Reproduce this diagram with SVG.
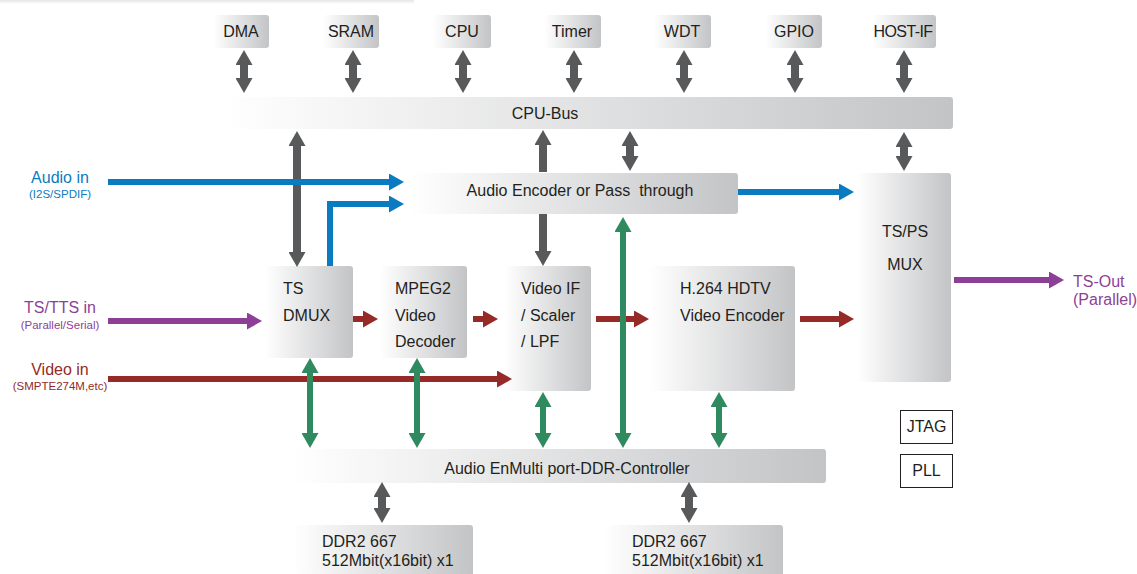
<svg xmlns="http://www.w3.org/2000/svg" width="1137" height="574" viewBox="0 0 1137 574">
<style>
.box{fill:url(#gb);}
.t{font-family:"Liberation Sans",Arial,sans-serif;font-size:16px;fill:#231f20;}
.c{text-anchor:middle;}
.s{font-size:11.5px;}
.g{stroke:#58595b;stroke-width:8;fill:none;marker-start:url(#mg);marker-end:url(#mg);}
.g1{stroke:#58595b;stroke-width:8;fill:none;marker-end:url(#mg);}
.bl{stroke:#0b7bc1;stroke-width:6;fill:none;marker-end:url(#mb);}
.pu{stroke:#8d3f97;stroke-width:6;fill:none;marker-end:url(#mp);}
.rd{stroke:#952a26;stroke-width:6;fill:none;marker-end:url(#mr);}
.gr{stroke:#2f8a60;stroke-width:6;fill:none;marker-start:url(#mgr);marker-end:url(#mgr);}
</style>
<defs>
<linearGradient id="gb" x1="0" y1="0" x2="1" y2="0">
<stop offset="0" stop-color="#ffffff"/>
<stop offset="1" stop-color="#c3c4c6"/>
</linearGradient>
<linearGradient id="gs" x1="0" y1="0" x2="0" y2="1">
<stop offset="0" stop-color="#d9d9d9"/>
<stop offset="1" stop-color="#ffffff"/>
</linearGradient>
<marker id="mg" markerUnits="userSpaceOnUse" viewBox="0 0 15 17" markerWidth="15" markerHeight="17" refX="1" refY="8.5" orient="auto-start-reverse"><path d="M0,0 L15,8.5 L0,17 z" fill="#58595b"/></marker>
<marker id="mb" markerUnits="userSpaceOnUse" viewBox="0 0 15 17" markerWidth="15" markerHeight="17" refX="1" refY="8.5" orient="auto-start-reverse"><path d="M0,0 L15,8.5 L0,17 z" fill="#0b7bc1"/></marker>
<marker id="mp" markerUnits="userSpaceOnUse" viewBox="0 0 15 17" markerWidth="15" markerHeight="17" refX="1" refY="8.5" orient="auto-start-reverse"><path d="M0,0 L15,8.5 L0,17 z" fill="#8d3f97"/></marker>
<marker id="mr" markerUnits="userSpaceOnUse" viewBox="0 0 15 17" markerWidth="15" markerHeight="17" refX="1" refY="8.5" orient="auto-start-reverse"><path d="M0,0 L15,8.5 L0,17 z" fill="#952a26"/></marker>
<marker id="mgr" markerUnits="userSpaceOnUse" viewBox="0 0 15 17" markerWidth="15" markerHeight="17" refX="1" refY="8.5" orient="auto-start-reverse"><path d="M0,0 L15,8.5 L0,17 z" fill="#2f8a60"/></marker>
</defs>
<rect width="1137" height="574" fill="#ffffff"/>
<rect x="-4" y="-2" width="418" height="6" rx="3" fill="url(#gs)"/>

<g id="dma"><rect class="box" x="213" y="15" width="56" height="33" rx="3"/><text class="t c" x="241" y="37">DMA</text></g>
<g id="sram"><rect class="box" x="323" y="15" width="56" height="33" rx="3"/><text class="t c" x="351" y="37">SRAM</text></g>
<g id="cpu"><rect class="box" x="433" y="15" width="58" height="33" rx="3"/><text class="t c" x="462" y="37">CPU</text></g>
<g id="timer"><rect class="box" x="544" y="15" width="57" height="33" rx="3"/><text class="t c" x="572" y="37">Timer</text></g>
<g id="wdt"><rect class="box" x="654" y="15" width="57" height="33" rx="3"/><text class="t c" x="682" y="37">WDT</text></g>
<g id="gpio"><rect class="box" x="765" y="15" width="57" height="33" rx="3"/><text class="t c" x="794" y="37">GPIO</text></g>
<g id="hostif"><rect class="box" x="872" y="15" width="64" height="33" rx="3"/><text class="t c" x="903" y="37" letter-spacing="-0.6">HOST-IF</text></g>

<g id="cpubus"><rect class="box" x="220" y="97" width="733" height="32" rx="3"/><text class="t c" x="545" y="119">CPU-Bus</text></g>
<g id="audioenc"><rect class="box" x="410" y="173" width="328" height="41" rx="3"/><text class="t c" x="580" y="196" xml:space="preserve">Audio Encoder or Pass  through</text></g>
<g id="tsdmux"><rect class="box" x="265" y="266" width="88" height="92" rx="3"/><text class="t" x="283" y="294">TS</text><text class="t" x="283" y="321">DMUX</text></g>
<g id="mpeg2"><rect class="box" x="380" y="266" width="87" height="92" rx="3"/><text class="t" x="395" y="294">MPEG2</text><text class="t" x="395" y="321">Video</text><text class="t" x="395" y="347">Decoder</text></g>
<g id="videoif"><rect class="box" x="504" y="266" width="87" height="125" rx="3"/><text class="t" x="521" y="294">Video IF</text><text class="t" x="521" y="321">/ Scaler</text><text class="t" x="521" y="347">/ LPF</text></g>
<g id="h264"><rect class="box" x="650" y="266" width="145" height="125" rx="3"/><text class="t" x="680" y="294">H.264 HDTV</text><text class="t" x="680" y="321">Video Encoder</text></g>
<g id="tspsmux"><rect class="box" x="857" y="173" width="94" height="209" rx="3"/><text class="t c" x="905" y="237">TS/PS</text><text class="t c" x="905" y="270">MUX</text></g>
<g id="ddrctrl"><rect class="box" x="293" y="449" width="533" height="34" rx="3"/><text class="t c" x="567" y="474">Audio EnMulti port-DDR-Controller</text></g>
<g id="ddr1"><rect class="box" x="293" y="525" width="180" height="60" rx="3"/><text class="t" x="322" y="547">DDR2 667</text><text class="t" x="322" y="566">512Mbit(x16bit) x1</text></g>
<g id="ddr2"><rect class="box" x="603" y="525" width="180" height="60" rx="3"/><text class="t" x="632" y="547">DDR2 667</text><text class="t" x="632" y="566">512Mbit(x16bit) x1</text></g>
<g id="jtag"><rect x="900.5" y="410.5" width="52" height="33" fill="#fff" stroke="#231f20" stroke-width="1"/><text class="t c" x="926.5" y="432">JTAG</text></g>
<g id="pll"><rect x="900.5" y="454.5" width="52" height="33" fill="#fff" stroke="#231f20" stroke-width="1"/><text class="t c" x="926.5" y="476">PLL</text></g>

<g id="labels">
<text class="t c" x="60" y="183" style="fill:#0b7bc1">Audio in</text>
<text class="t c s" x="60" y="198" style="fill:#0b7bc1">(I2S/SPDIF)</text>
<text class="t c" x="60" y="313" style="fill:#8d3f97">TS/TTS in</text>
<text class="t c s" x="60" y="329" style="fill:#8d3f97">(Parallel/Serial)</text>
<text class="t c" x="60" y="375" style="fill:#952a26">Video in</text>
<text class="t c s" x="60" y="390" style="fill:#952a26">(SMPTE274M,etc)</text>
<text class="t" x="1073" y="287" style="fill:#8d3f97">TS-Out</text>
<text class="t" x="1073" y="305" style="fill:#8d3f97">(Parallel)</text>
</g>

<g id="connectors">
<line class="g" x1="244" y1="64" x2="244" y2="79"/>
<line class="g" x1="353" y1="64" x2="353" y2="79"/>
<line class="g" x1="463" y1="64" x2="463" y2="79"/>
<line class="g" x1="574" y1="64" x2="574" y2="79"/>
<line class="g" x1="684" y1="64" x2="684" y2="79"/>
<line class="g" x1="795" y1="64" x2="795" y2="79"/>
<line class="g" x1="904" y1="64" x2="904" y2="79"/>
<line class="g" x1="297" y1="145" x2="297" y2="253"/>
<line class="g1" x1="543" y1="172" x2="543" y2="144"/>
<line class="g" x1="630" y1="145" x2="630" y2="157"/>
<line class="g" x1="904" y1="146" x2="904" y2="157"/>
<line class="g1" x1="543" y1="214" x2="543" y2="252"/>
<line class="g" x1="382" y1="496" x2="382" y2="509"/>
<line class="g" x1="689" y1="496" x2="689" y2="509"/>

<path class="bl" d="M108,182 H390"/>
<path class="bl" d="M330,266 V204 H390"/>
<path class="bl" d="M738,192 H840"/>

<path class="pu" d="M108,321 H248"/>
<path class="pu" d="M954,280 H1050"/>

<path class="rd" d="M108,379 H498"/>
<path class="rd" d="M353,319 H364"/>
<path class="rd" d="M473,319 H484"/>
<path class="rd" d="M596,319 H635"/>
<path class="rd" d="M800,319 H840"/>

<line class="gr" x1="310" y1="372" x2="310" y2="434"/>
<line class="gr" x1="417" y1="372" x2="417" y2="434"/>
<line class="gr" x1="543" y1="406" x2="543" y2="434"/>
<line class="gr" x1="623" y1="231" x2="623" y2="434"/>
<line class="gr" x1="719" y1="406" x2="719" y2="434"/>
</g>
</svg>
